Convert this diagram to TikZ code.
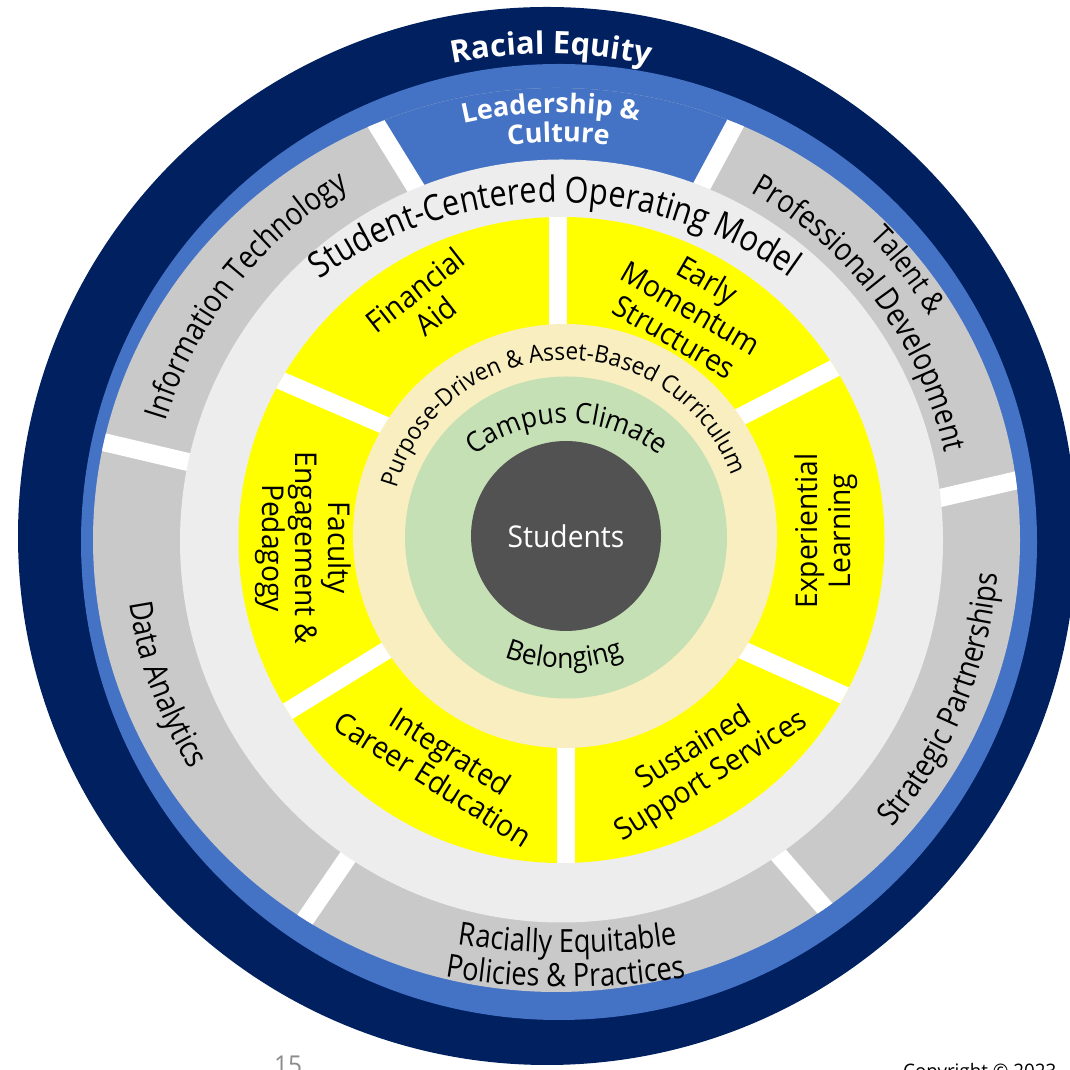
\documentclass[tikz,border=0pt]{standalone}
\usepackage{fontspec}
\setmainfont{Open Sans}[FakeStretch=0.94]
\newfontfamily\arcfont{Open Sans}[FakeStretch=0.85]
\newfontfamily\plainfont{Open Sans}
\usetikzlibrary{decorations.text}
\definecolor{navyring}{HTML}{002060}
\definecolor{ringblue}{HTML}{4472C4}
\definecolor{ringgray}{HTML}{C9C9C9}
\definecolor{ringlight}{HTML}{EDEDED}
\definecolor{segyellow}{HTML}{FFFF00}
\definecolor{creamring}{HTML}{F8EEC0}
\definecolor{greenring}{HTML}{C5E0B4}
\definecolor{studgray}{HTML}{525252}
\definecolor{pagegray}{HTML}{8C8C8C}
\tikzset{
  gapline/.style={white, line width=18pt},
  ctext/.style={decorate, decoration={text along path, text align=center, text={#1}}},
  wtext/.style={decorate, decoration={text along path, text align=center, text color=white, text={#1}}},
  seglabel/.style={align=center, inner sep=0pt, font=\fontsize{30}{33}\selectfont},
}
\begin{document}
\begin{tikzpicture}[x=1pt,y=1pt]
\useasboundingbox[fill=white] (0,0) rectangle (1069,1070);
% rings
\fill[navyring] (547,534) circle[radius=529];
\fill[ringblue] (559,528) circle[radius=478];
\fill[ringgray] (556.5,530) ellipse[x radius=463.5, y radius=452];
\begin{scope}
  \clip (556.5,530) ellipse[x radius=463.5, y radius=452];
  \fill[ringblue] (327,1026) -- (484.5,770.5) -- (632.5,755) -- (783,1035) -- cycle;
  \draw[gapline] (349.5,989.5) -- (439.5,843.5);
  \draw[gapline] (761.5,995) -- (675.5,835);
  \draw[gapline] (901,563) -- (1057,599);
  \draw[gapline] (748,250.5) -- (864,116.5);
  \draw[gapline] (372,248) -- (276,108);
  \draw[gapline] (60.5,638) -- (230.5,598);
\end{scope}
\fill[ringlight] (561.5,529) circle[radius=381.5];
\fill[segyellow] (561.5,530) circle[radius=323];
\begin{scope}
  \clip (561.5,530) circle[radius=323];
  \draw[gapline] (557.5,880) -- (557.5,700);
  \draw[gapline] (691.5,628) -- (885.5,728);
  \draw[gapline] (696.5,440.5) -- (898.5,350.5);
  \draw[gapline] (566,360) -- (566,180);
  \draw[gapline] (438,451.5) -- (234,325.5);
  \draw[gapline] (428,626) -- (224,714);
\end{scope}
\fill[creamring] (565,534) circle[radius=212];
\fill[greenring] (566,532.5) circle[radius=161];
\node[circle, fill=studgray, minimum size=190pt, inner sep=0pt, text=white,
      font=\fontsize{30}{36}\selectfont] (students) at (566,534) {Students};

% outer ring texts
\path[wtext={|\plainfont\bfseries\fontsize{31}{36}\selectfont|Racial Equity}]
  ([shift={(108:482)}]547,534) arc[start angle=108, end angle=71, radius=482];
\path[wtext={|\plainfont\bfseries\fontsize{27}{32}\selectfont|Leadership {\&}}]
  ([shift={(110:427)}]559,530) arc[start angle=110, end angle=72.2, radius=427];
\path[wtext={|\plainfont\bfseries\fontsize{27}{32}\selectfont|Culture}]
  ([shift={(105:398)}]559,530) arc[start angle=105, end angle=75.15, radius=398];
\path[ctext={|\arcfont\fontsize{32}{38}\selectfont|Information Technology}]
  ([shift={(171.9:408)}]556.5,530) arc[start angle=171.9, end angle=111.9, radius=408];
\path[ctext={|\arcfont\fontsize{30}{36}\selectfont|Talent {\&}}]
  ([shift={(50:435)}]556.5,530) arc[start angle=50, end angle=25, radius=435];
\path[ctext={|\arcfont\fontsize{32}{38}\selectfont|Professional Development}]
  ([shift={(70:398)}]556.5,530) arc[start angle=70, end angle=3.5, radius=398];
\path[ctext={|\arcfont\fontsize{32}{38}\selectfont|Strategic Partnerships}]
  ([shift={(-50:442)}]556.5,530) arc[start angle=-50, end angle=5, radius=442];
\path[ctext={|\arcfont\fontsize{32}{38}\selectfont|Data Analytics}]
  ([shift={(180:432)}]556.5,530) arc[start angle=180, end angle=220.5, radius=432];
\path[ctext={|\arcfont\fontsize{32}{38}\selectfont|Racially Equitable}]
  ([shift={(255:700)}]567,817) arc[start angle=255, end angle=285.1, radius=700];
\path[ctext={|\arcfont\fontsize{32}{38}\selectfont|Policies {\&} Practices}]
  ([shift={(255:720)}]566,803) arc[start angle=255, end angle=284.9, radius=720];
\path[ctext={|\arcfont\fontsize{36}{43}\selectfont|Student-Centered Operating Model}]
  ([shift={(136.6:401.5)}]556,466) arc[start angle=136.6, end angle=43.8, radius=401.5];

% inner ring texts
\path[ctext={|\fontsize{24}{28}\selectfont|Purpose-Driven {\&} Asset-Based Curriculum}]
  ([shift={(180:176)}]566,534) arc[start angle=180, end angle=4.5, radius=176];
\path[ctext={|\fontsize{28}{32}\selectfont|Campus Climate}]
  ([shift={(150:147.5)}]567,499.5) arc[start angle=150, end angle=30, radius=147.5];
\path[ctext={|\fontsize{28}{32}\selectfont|Belonging}]
  ([shift={(230:165)}]564,567) arc[start angle=230, end angle=310, radius=165];

% yellow segment labels
\node[seglabel, rotate=38] (finaid) at (425,767) {Financial\\Aid};
\node[seglabel, rotate=-30] (early) at (691,762) {Early\\Momentum\\Structures};
\node[seglabel, rotate=90] (exper) at (826,539) {Experiential\\Learning};
\node[seglabel, rotate=32] (sustain) at (703,307) {Sustained\\Support Services};
\node[seglabel, rotate=-32] (career) at (442,305) {Integrated\\Career Education};
\node[seglabel, rotate=-90] (faculty) at (303,522) {Faculty\\Engagement {\&}\\Pedagogy};

% page footer (cut by the page edge)
\node[anchor=base, inner sep=0pt, text=pagegray, font=\fontsize{26}{30}\selectfont] (pagenum) at (288,-5) {15};
\node[anchor=base west, inner sep=0pt, font=\fontsize{20}{24}\selectfont] (copyr) at (903,-9) {Copyright © 2023};
\end{tikzpicture}
\end{document}
